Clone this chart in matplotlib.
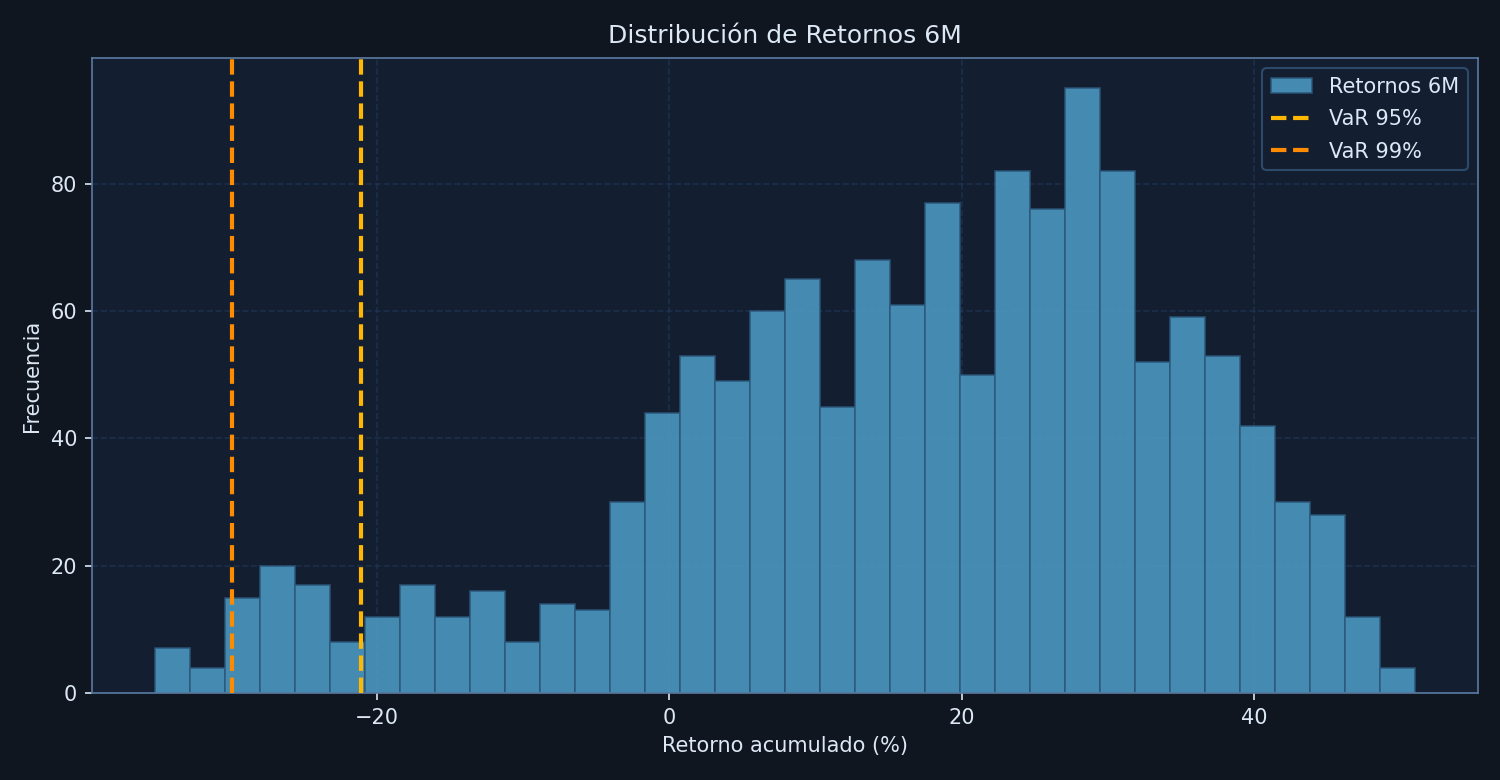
import matplotlib
matplotlib.use("Agg")
import matplotlib.pyplot as plt
import numpy as np

# histogram of 6M cumulative returns (%)
bin_lo = -35.2
bin_hi = 51.0
counts = [7, 4, 15, 20, 17, 8, 12, 17, 12, 16, 8, 14, 13, 30, 44, 53, 49, 60, 65,
          45, 68, 61, 77, 50, 82, 76, 95, 82, 52, 59, 53, 42, 30, 28, 12, 4]
var_95 = -21.1
var_99 = -29.9

BG = "#10161f"
AX_BG = "#131e30"
TXT = "#dce8f5"
EDGE = "#5a7ba3"

edges = np.linspace(bin_lo, bin_hi, len(counts) + 1)

fig = plt.figure(figsize=(10, 5.2), dpi=150, facecolor=BG)
ax = fig.add_axes([0.0613, 0.1115, 0.9240, 0.8141], facecolor=AX_BG)

ax.grid(True, color="#22385a", ls="--", lw=0.8, alpha=0.6)
ax.set_axisbelow(True)

bars = ax.bar(edges[:-1], counts, width=np.diff(edges), align="edge",
              color="#4e9ec7", alpha=0.85, edgecolor="#2b5578", linewidth=0.8,
              label="Retornos 6M", zorder=2)
l95 = ax.axvline(var_95, color="#ffb700", ls="--", lw=2, label="VaR 95%", zorder=3)
l99 = ax.axvline(var_99, color="#ff8c00", ls="--", lw=2, label="VaR 99%", zorder=3)

ax.set_yticks([0, 20, 40, 60, 80])
ax.set_xticks([-20, 0, 20, 40])

for s in ax.spines.values():
    s.set_color(EDGE)
ax.tick_params(colors=TXT, labelsize=10)

ax.set_title("Distribución de Retornos 6M", color=TXT, fontsize=12, pad=7)
ax.set_xlabel("Retorno acumulado (%)", color=TXT, fontsize=10)
ax.set_ylabel("Frecuencia", color=TXT, fontsize=10)

ax.legend(handles=[bars, l95, l99], loc="upper right", facecolor=AX_BG,
          edgecolor="#2e4a6a", fontsize=10, labelcolor=TXT, framealpha=1,
          labelspacing=0.6)

fig.savefig("out.png", dpi=150, facecolor=BG)
